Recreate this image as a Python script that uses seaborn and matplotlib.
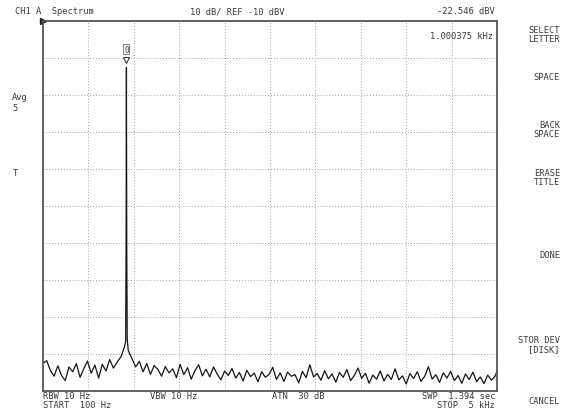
import numpy as np
import pandas as pd
import seaborn as sns
import matplotlib.pyplot as plt

# spectrum trace (Hz, dBV)
freq_low = [100, 140, 180, 220, 260, 300, 340, 380, 420, 460, 500,
            540, 580, 620, 660, 700, 740, 780, 820, 860, 900, 940]
dbv_low = [-102.5, -101.8, -104.5, -106.0, -103.2, -105.8, -107.2, -103.5, -104.8, -102.6, -106.3,
           -104.0, -101.9, -105.2, -103.0, -106.5, -102.8, -104.6, -101.5, -103.8, -102.2, -100.8]

freq_peak = [960, 980, 992, 997, 1000.375, 1004, 1009, 1020, 1040]
dbv_peak = [-99.5, -98.0, -96.5, -70.0, -22.546, -70.0, -96.0, -99.0, -100.2]

freq_high = list(range(1060, 5000, 40)) + [5000]
dbv_high = [-101.2, -103.5, -102.0, -104.8, -102.6, -105.5, -103.1, -104.2, -106.0, -103.4, -105.1,
            -104.0, -106.4, -102.8, -105.6, -103.7, -106.8, -104.5, -102.9, -105.9, -104.1, -106.2,
            -103.5, -105.4, -107.0, -104.6, -105.8, -103.9, -106.5, -105.0, -107.3, -104.4, -106.1,
            -105.2, -107.5, -104.8, -106.3, -105.5, -103.6, -106.9, -105.1, -107.4, -104.9, -106.0,
            -105.6, -107.8, -104.7, -106.4, -102.9, -106.2, -105.3, -107.1, -104.5, -106.7, -105.4,
            -107.6, -105.0, -106.3, -104.2, -107.2, -105.8, -103.8, -106.6, -105.2, -107.9, -105.7,
            -106.8, -104.6, -107.3, -105.5, -106.9, -104.0, -107.0, -105.9, -108.1, -105.3, -106.6,
            -104.8, -107.4, -106.0, -103.4, -106.8, -105.6, -107.7, -105.1, -106.5, -104.7, -107.2,
            -105.8, -107.9, -105.4, -106.9, -104.9, -107.5, -106.2, -108.0, -105.7, -107.1, -106.0,
            -104.5]

marker_freq = 1000.375
marker_dbv = -22.546

df = pd.DataFrame({'freq': freq_low + freq_peak + freq_high,
                   'dbv': dbv_low + dbv_peak + dbv_high})

sns.set_style("white")
plt.rcParams['font.family'] = ['DejaVu Sans Mono', 'DejaVu Sans']
txt = '#3a3a3a'
fs = 6.3

fig = plt.figure(figsize=(5.68, 4.14), dpi=100)
ax = fig.add_axes([43/568, 22/414, 454/568, 370/414])

sns.lineplot(data=df, x='freq', y='dbv', ax=ax, color='#151515', linewidth=0.9, sort=False)

ax.set_xlim(100, 5000)
ax.set_ylim(-110, -10)
ax.set_xticks(np.linspace(100, 5000, 11))
ax.set_yticks(np.arange(-110, -9, 10))
ax.set_xticklabels([])
ax.set_yticklabels([])
ax.tick_params(length=0)
ax.set_xlabel('')
ax.set_ylabel('')
ax.grid(True, linestyle=(0, (1, 2)), color='#a0a0a0', linewidth=0.7)
for s in ax.spines.values():
    s.set_color('#555555')
    s.set_linewidth(1.3)

# marker
ax.plot([marker_freq], [-20.6], marker='v', markersize=5, markerfacecolor='white',
        markeredgecolor='#333333', markeredgewidth=0.8, linestyle='none')
ax.text(marker_freq, -17.6, '0', ha='center', va='center', fontsize=5.5, color=txt,
        bbox=dict(boxstyle='square,pad=0.1', fc='white', ec='#666666', lw=0.6))
ax.plot([0], [1], transform=ax.transAxes, marker='>', markersize=4, color='#222222', clip_on=False)

# header
fig.text(15/568, 1 - 12/414, 'CH1 A  Spectrum', fontsize=fs, color=txt, va='center')
fig.text(190/568, 1 - 12/414, '10 dB/ REF -10 dBV', fontsize=fs, color=txt, va='center')
fig.text(495/568, 1 - 12/414, '-22.546 dBV', fontsize=fs, color=txt, va='center', ha='right')
ax.text(0.992, 0.962, '1.000375 kHz', transform=ax.transAxes, fontsize=fs, color=txt,
        va='center', ha='right')

# left annotations
fig.text(12/568, 1 - 103/414, 'Avg\n5', fontsize=fs, color=txt, va='center', linespacing=1.2)
fig.text(13/568, 1 - 174/414, 'T', fontsize=fs, color=txt, va='center')

# softkeys
keys = [('SELECT\nLETTER', 35), ('SPACE', 78), ('BACK\nSPACE', 130), ('ERASE\nTITLE', 178),
        ('DONE', 256), ('STOR DEV\n[DISK]', 345), ('CANCEL', 402)]
for label, yy in keys:
    fig.text(560/568, 1 - yy/414, label, fontsize=fs, color=txt, va='center', ha='right',
             multialignment='right', linespacing=1.0)

# footer
fig.text(43/568, 1 - 397/414, 'RBW 10 Hz', fontsize=fs, color=txt, va='center')
fig.text(150/568, 1 - 397/414, 'VBW 10 Hz', fontsize=fs, color=txt, va='center')
fig.text(272/568, 1 - 397/414, 'ATN  30 dB', fontsize=fs, color=txt, va='center')
fig.text(495/568, 1 - 397/414, 'SWP  1.394 sec', fontsize=fs, color=txt, va='center', ha='right')
fig.text(43/568, 1 - 406/414, 'START  100 Hz', fontsize=fs, color=txt, va='center')
fig.text(495/568, 1 - 406/414, 'STOP  5 kHz', fontsize=fs, color=txt, va='center', ha='right')

fig.savefig('out.png', dpi=100)
